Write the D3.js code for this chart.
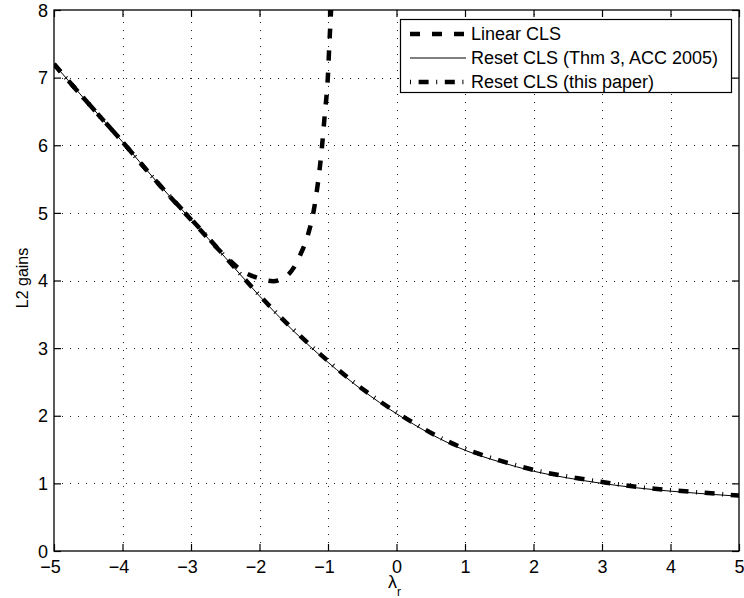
<!DOCTYPE html>
<html>
<head>
<meta charset="utf-8">
<script src="https://cdn.jsdelivr.net/npm/d3@7"></script>
<style>
  body { margin: 0; background: #fff; }
  text { font-family: Helvetica, Arial, "Liberation Sans", sans-serif; fill: #000; }
</style>
</head>
<body>
<svg id="chart" width="744" height="598"></svg>
<script>
// values
const lambdaR = [-5, -4.5, -4, -3.5, -3, -2.5, -2, -1.5, -1, -0.5, 0, 0.5, 1, 1.5, 2, 2.5, 3, 3.5, 4, 4.5, 5];
const resetAcc = [7.2, 6.62, 6.05, 5.46, 4.9, 4.34, 3.77, 3.25, 2.79, 2.38, 2.03, 1.73, 1.49, 1.32, 1.18, 1.08, 1.0, 0.935, 0.885, 0.845, 0.81];
const resetNew = [7.2, 6.62, 6.05, 5.46, 4.91, 4.35, 3.78, 3.27, 2.81, 2.4, 2.05, 1.75, 1.51, 1.34, 1.2, 1.1, 1.02, 0.95, 0.9, 0.86, 0.82];
const linearX = [-5, -4.5, -4, -3.5, -3, -2.5, -2.25, -2, -1.8, -1.6, -1.5, -1.4, -1.3, -1.2, -1.15, -1.1, -1.05, -1.0, -0.98, -0.955];
const linearY = [7.2, 6.62, 6.05, 5.46, 4.9, 4.36, 4.14, 4.03, 3.99, 4.07, 4.19, 4.39, 4.65, 5.08, 5.42, 5.85, 6.42, 7.05, 7.5, 8.0];
const xTicks = [-5, -4, -3, -2, -1, 0, 1, 2, 3, 4, 5];
const yTicks = [0, 1, 2, 3, 4, 5, 6, 7, 8];
const legendLabels = ["Linear CLS", "Reset CLS (Thm 3, ACC 2005)", "Reset CLS (this paper)"];

const svg = d3.select("#chart");
const pLeft = 54, pRight = 739, pTop = 10, pBottom = 551;
const fontSize = 18;

const x = d3.scaleLinear().domain([-5, 5]).range([pLeft, pRight]);
const y = d3.scaleLinear().domain([0, 8]).range([pBottom, pTop]);

svg.append("defs").append("clipPath").attr("id", "plotclip")
  .append("rect").attr("x", pLeft).attr("y", pTop).attr("width", pRight - pLeft).attr("height", pBottom - pTop);

// dotted grid
const grid = svg.append("g").attr("stroke", "#222").attr("stroke-width", 1)
  .attr("stroke-dasharray", "1,7").attr("shape-rendering", "crispEdges");
grid.selectAll(".gx").data(xTicks.slice(1, -1)).enter().append("line")
  .attr("x1", d => Math.round(x(d)) + 0.5).attr("x2", d => Math.round(x(d)) + 0.5)
  .attr("y1", pBottom).attr("y2", pTop);
grid.selectAll(".gy").data(yTicks.slice(1, -1)).enter().append("line")
  .attr("y1", d => Math.round(y(d)) + 0.5).attr("y2", d => Math.round(y(d)) + 0.5)
  .attr("x1", pLeft).attr("x2", pRight);

// curves
const plot = svg.append("g").attr("clip-path", "url(#plotclip)").attr("fill", "none").attr("stroke", "#000");
const smooth = d3.line().x(d => x(d[0])).y(d => y(d[1])).curve(d3.curveNatural);
const steep = d3.line().x(d => x(d[0])).y(d => y(d[1])).curve(d3.curveMonotoneX);

plot.append("path")
  .datum(d3.zip(lambdaR, resetAcc))
  .attr("d", smooth).attr("stroke-width", 1);

plot.append("path")
  .datum(d3.zip(lambdaR, resetNew))
  .attr("d", smooth).attr("stroke-width", 4.5).attr("stroke-dasharray", "10,7.6,1,7.6");

plot.append("path")
  .datum(d3.zip(linearX, linearY))
  .attr("d", steep).attr("stroke-width", 4.5).attr("stroke-dasharray", "10,12");

// axes (matlab style box, ticks inside on all sides)
const tickLen = 7;
const axisG = svg.append("g");
axisG.append("rect").attr("x", pLeft).attr("y", pTop).attr("width", pRight - pLeft).attr("height", pBottom - pTop)
  .attr("fill", "none").attr("stroke", "#000").attr("stroke-width", 1.3);

const xAxisB = d3.axisBottom(x).tickValues(xTicks).tickSizeInner(-tickLen).tickSizeOuter(0)
  .tickFormat(d => d < 0 ? "\u2212" + Math.abs(d) : d);
const gxb = axisG.append("g").attr("transform", `translate(0,${pBottom})`).call(xAxisB);
const xAxisT = d3.axisTop(x).tickValues(xTicks).tickSizeInner(-tickLen).tickSizeOuter(0).tickFormat("");
const gxt = axisG.append("g").attr("transform", `translate(0,${pTop})`).call(xAxisT);

const yAxisL = d3.axisLeft(y).tickValues(yTicks).tickSizeInner(-tickLen).tickSizeOuter(0);
const gyl = axisG.append("g").attr("transform", `translate(${pLeft},0)`).call(yAxisL);
const yAxisR = d3.axisRight(y).tickValues(yTicks).tickSizeInner(-tickLen).tickSizeOuter(0).tickFormat("");
const gyr = axisG.append("g").attr("transform", `translate(${pRight},0)`).call(yAxisR);

[gxb, gxt, gyl, gyr].forEach(g => {
  g.select(".domain").remove();
  g.selectAll(".tick line").attr("stroke", "#000").attr("stroke-width", 1.2);
  g.selectAll("text").attr("font-size", fontSize).attr("font-family", null);
});
gxb.selectAll(".tick text").attr("dy", null).attr("y", 22)
  .attr("x", d => d < 0 ? -4 : 0);
gyl.selectAll(".tick text").attr("x", -6).attr("dy", "0.34em");

// axis labels
const xl = svg.append("text").attr("x", 388).attr("y", 588).attr("font-size", fontSize);
xl.append("tspan").text("\u03bb");
xl.append("tspan").attr("font-size", 12).attr("dy", 8).text("r");

svg.append("text").attr("transform", "translate(28,278) rotate(-90)")
  .attr("text-anchor", "middle").attr("font-size", 16).text("L2 gains");

// legend
const lg = svg.append("g");
lg.append("rect").attr("x", 400.5).attr("y", 19.5).attr("width", 331).attr("height", 73)
  .attr("fill", "#fff").attr("stroke", "#000").attr("stroke-width", 1.2);
const legendStyles = [
  { w: 4.5, dash: "10,12" },
  { w: 1, dash: null },
  { w: 4.5, dash: "1,7.6,10,7.6" }
];
const rows = lg.selectAll(".row").data(legendLabels).enter().append("g")
  .attr("transform", (d, i) => `translate(0,${34 + i * 24})`);
rows.append("line").attr("x1", 410).attr("x2", 466).attr("y1", 0).attr("y2", 0)
  .attr("stroke", "#000").attr("stroke-width", (d, i) => legendStyles[i].w)
  .attr("stroke-dasharray", (d, i) => legendStyles[i].dash);
rows.append("text").attr("x", 471).attr("dy", "0.36em").attr("font-size", fontSize).text(d => d);
</script>
</body>
</html>
